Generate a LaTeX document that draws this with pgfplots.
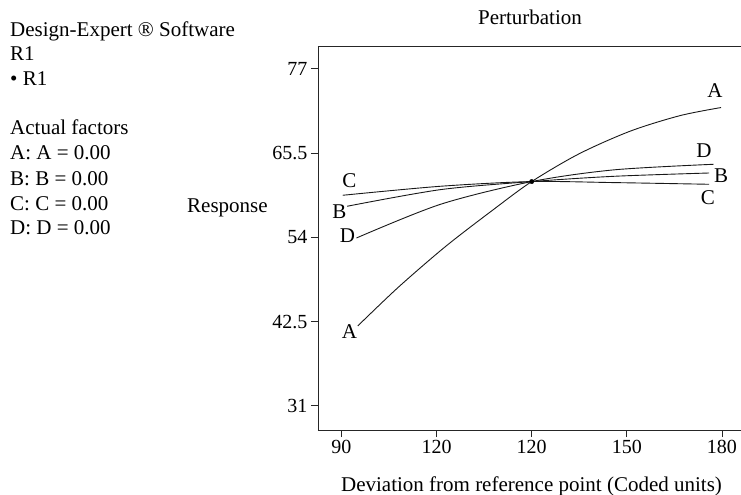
\documentclass[border=0pt]{standalone}
\usepackage{fontspec}
\setmainfont{Liberation Serif}
\usepackage{pgfplots}
\pgfplotsset{compat=1.18}
\begin{document}
\begin{tikzpicture}
\path[use as bounding box] (-318bp,-65bp) rectangle (423bp,430bp);
\begin{axis}[
  at={(0,0)}, anchor=south west,
  width=423bp, height=384bp, scale only axis,
  xmin=-1.123, xmax=1.1, ymin=27.7, ymax=80.1,
  axis x line*=bottom, axis y line*=left,
  axis line style={line width=0.9bp, black!85},
  tick align=outside, major tick length=7bp,
  tick style={line width=0.7bp, black!85},
  xtick={-1,-0.5,0,0.5,1}, xticklabels={90,120,120,150,180},
  ytick={31,42.5,54,65.5,77}, yticklabels={31,42.5,54,65.5,77},
  ticklabel style={font=\fontsize{20bp}{24bp}\selectfont},
  /pgf/number format/assume math mode=true,
  clip=false,
]
\draw[line width=0.9bp, black!85] (rel axis cs:0,1) -- (rel axis cs:1,1);
\addplot[smooth, tension=0.5, line width=0.9bp, black!90] coordinates {(-0.914,41.9) (-0.7,47.2) (-0.45,52.8) (-0.2,57.8) (0,61.6) (0.25,65.4) (0.52,68.5) (0.78,70.6) (0.995,71.7)};
\addplot[smooth, tension=0.5, line width=0.9bp, black!90] coordinates {(-0.97,58.23) (-0.479,60.5) (0,61.6) (0.433,62.32) (0.933,62.77)};
\addplot[smooth, tension=0.5, line width=0.9bp, black!90] coordinates {(-0.993,59.73) (-0.479,60.96) (0,61.6) (0.433,61.46) (0.933,61.23)};
\addplot[smooth, tension=0.5, line width=0.9bp, black!90] coordinates {(-0.921,53.9) (-0.479,58.5) (0,61.6) (0.433,63.2) (0.956,63.96)};
\addplot[only marks, mark=*, mark size=2.2bp, black] coordinates {(0,61.6)};
\begin{scope}[every node/.style={font=\fontsize{21bp}{25bp}\selectfont, inner sep=0pt}]
\node at (axis cs:-0.958,61.78) {C};
\node at (axis cs:-1.011,57.55) {B};
\node at (axis cs:-0.968,54.21) {D};
\node at (axis cs:-0.958,41.19) {A};
\node at (axis cs:0.963,74.04) {A};
\node at (axis cs:0.905,65.86) {D};
\node at (axis cs:0.995,62.46) {B};
\node at (axis cs:0.926,59.46) {C};
\end{scope}
\end{axis}
\begin{scope}[every node/.style={font=\fontsize{21bp}{25bp}\selectfont, inner sep=0pt}]
\node[anchor=base] at (212bp,405bp) {Perturbation};
\node[anchor=base] at (213.5bp,-61bp) {Deviation from reference point (Coded units)};
\node[anchor=base west] at (-131bp,217bp) {Response};
\node[anchor=base west] at (-308bp,393bp) {Design-Expert ® Software};
\node[anchor=base west] at (-308bp,369bp) {R1};
\node[anchor=base west] at (-308bp,344bp) {• R1};
\node[anchor=base west] at (-308bp,295bp) {Actual factors};
\node[anchor=base west] at (-308bp,270bp) {A: A = 0.00};
\node[anchor=base west] at (-308bp,244bp) {B: B = 0.00};
\node[anchor=base west] at (-308bp,219bp) {C: C = 0.00};
\node[anchor=base west] at (-308bp,195bp) {D: D = 0.00};
\end{scope}
\end{tikzpicture}
\end{document}
